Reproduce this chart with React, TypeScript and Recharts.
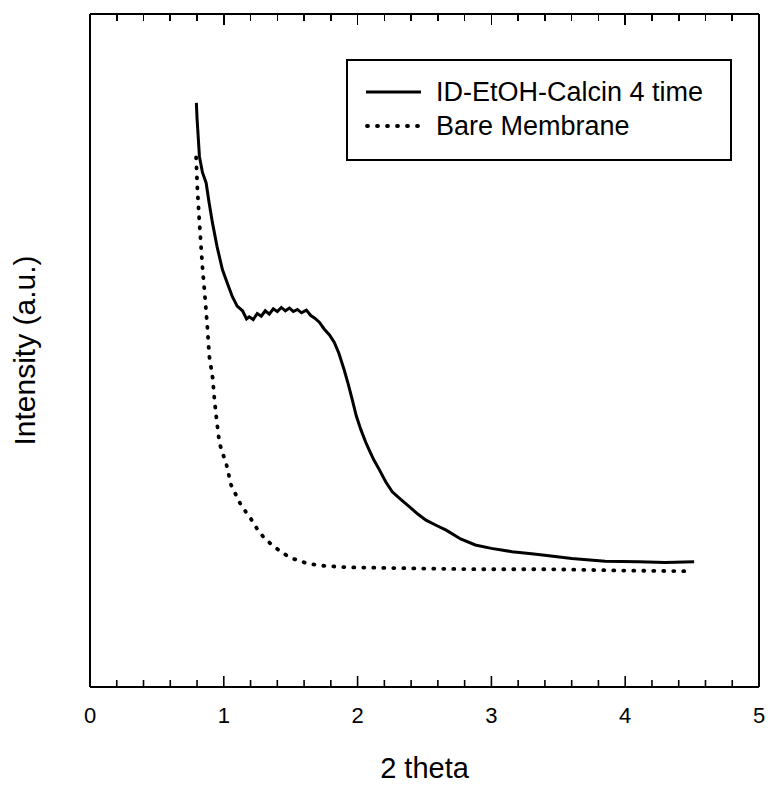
import React from 'react';
import { LineChart, Line, XAxis, YAxis, Legend, ReferenceLine } from 'recharts';

// ID-EtOH-Calcin 4 time
const calcinTheta = [
  0.795, 0.8, 0.818, 0.84, 0.868, 0.89, 0.915, 0.95, 0.99, 1.03, 1.064, 1.1, 1.14, 1.17, 1.19,
  1.22, 1.25, 1.28, 1.31, 1.34, 1.37, 1.4, 1.43, 1.46, 1.49, 1.52, 1.55, 1.58, 1.617, 1.65, 1.68,
  1.714, 1.75, 1.79, 1.826, 1.86, 1.9, 1.93, 1.96, 1.99, 2.025, 2.06, 2.087, 2.12, 2.162, 2.21,
  2.259, 2.32, 2.386, 2.45, 2.511, 2.59, 2.662, 2.77, 2.88, 3.0, 3.155, 3.3, 3.43, 3.6, 3.85, 4.1,
  4.3, 4.515,
];
const calcinIntensity = [
  86.8, 84.5, 78.8, 76.5, 74.9, 72.0, 69.0, 65.4, 62.0, 59.8, 58.0, 56.6, 55.9, 54.7, 55.0,
  54.6, 55.5, 55.1, 55.9, 55.4, 56.2, 55.8, 56.4, 55.9, 56.3, 55.8, 56.1, 55.6, 56.0, 55.2, 54.8,
  54.2, 53.2, 52.3, 51.2, 49.6, 47.1, 45.0, 42.7, 40.3, 38.2, 36.4, 35.2, 33.8, 32.3, 30.5,
  29.0, 27.9, 26.8, 25.7, 24.8, 24.0, 23.3, 22.0, 21.1, 20.6, 20.1, 19.8, 19.5, 19.1, 18.7, 18.6,
  18.5, 18.6,
];

// Bare Membrane
const bareTheta = [
  0.793, 0.803, 0.818, 0.84, 0.86, 0.877, 0.892, 0.917, 0.93, 0.947, 0.967, 0.99, 1.017, 1.055,
  1.092, 1.129, 1.199, 1.249, 1.296, 1.355, 1.42, 1.497, 1.632, 1.75, 1.908, 2.19, 2.5, 2.88,
  3.43, 4.0, 4.48,
];
const bareIntensity = [
  78.7, 73.9, 69.0, 62.5, 57.8, 53.5, 49.1, 45.9, 42.7, 39.6, 36.3, 34.8, 33.3, 30.0,
  28.5, 27.0, 25.1, 23.5, 22.3, 21.2, 20.2, 19.2, 18.3, 18.0, 17.8, 17.7, 17.6, 17.5,
  17.5, 17.3, 17.2,
];

const thetaTicks = [
  0, 0.2, 0.4, 0.6, 0.8, 1, 1.2, 1.4, 1.6, 1.8, 2, 2.2, 2.4, 2.6, 2.8, 3, 3.2, 3.4, 3.6, 3.8, 4,
  4.2, 4.4, 4.6, 4.8, 5,
];

const calcinData = calcinTheta.map((x, i) => ({ x, y: calcinIntensity[i] }));
const bareData = bareTheta.map((x, i) => ({ x, y: bareIntensity[i] }));

const FONT = '"Liberation Sans", Arial, sans-serif';
const X_MAX = 5;
const Y_MAX = 100;
const PLOT_TOP = 14;
const PLOT_LEFT = 90;
const PLOT_WIDTH = 669;

const isMajor = (v: number) => Math.abs(v - Math.round(v)) < 1e-6;

// inward ticks on the bottom edge, labels on whole numbers
const BottomTick = (props: any) => {
  const { x, y, payload } = props;
  const major = isMajor(payload.value);
  return (
    <g>
      <line x1={x} y1={y} x2={x} y2={y - (major ? 11 : 7)} stroke="#000" strokeWidth={1.6} />
      {major && (
        <text x={x} y={y + 36} textAnchor="middle" fontSize={22} fontFamily={FONT} fill="#000">
          {Math.round(payload.value)}
        </text>
      )}
    </g>
  );
};

// mirrored tick row hanging from the top edge of the frame
const TopTicks = () => (
  <div style={{ position: 'absolute', left: 0, top: 0, zIndex: 5, pointerEvents: 'none' }}>
    {thetaTicks.map((t) => (
      <div
        key={t}
        style={{
          position: 'absolute',
          left: PLOT_LEFT + (t / X_MAX) * PLOT_WIDTH - 0.8,
          top: PLOT_TOP,
          width: 1.6,
          height: isMajor(t) ? 11 : 7,
          background: '#000',
        }}
      />
    ))}
  </div>
);

const LegendBox = () => (
  <svg width={386} height={102} style={{ display: 'block' }}>
    <rect x={1} y={1} width={384} height={100} fill="#fff" stroke="#000" strokeWidth={2} />
    <line x1={20} y1={33} x2={75} y2={33} stroke="#000" strokeWidth={3} />
    <text x={90} y={42} fontSize={27} fontFamily={FONT} fill="#000">
      ID-EtOH-Calcin 4 time
    </text>
    <line
      x1={21}
      y1={67}
      x2={76}
      y2={67}
      stroke="#000"
      strokeWidth={3.8}
      strokeDasharray="1 9"
      strokeLinecap="round"
    />
    <text x={90} y={76} fontSize={27} fontFamily={FONT} fill="#000">
      Bare Membrane
    </text>
  </svg>
);

export default function App() {
  return (
    <div style={{ position: 'absolute', left: 0, top: 0, width: 770, height: 789, background: '#fff' }}>
      <LineChart width={770} height={789} margin={{ top: PLOT_TOP, right: 10, bottom: 101, left: 89 }}>
        <XAxis
          type="number"
          dataKey="x"
          domain={[0, X_MAX]}
          ticks={thetaTicks}
          interval={0}
          height={1}
          tickSize={0}
          tickMargin={0}
          tick={<BottomTick />}
          axisLine={{ stroke: '#000', strokeWidth: 2 }}
          label={({ viewBox }: any) => (
            <text
              x={viewBox.x + viewBox.width / 2}
              y={778}
              textAnchor="middle"
              fontSize={29}
              fontFamily={FONT}
              fill="#000"
            >
              2 theta
            </text>
          )}
        />
        <YAxis
          type="number"
          domain={[0, Y_MAX]}
          width={1}
          tick={false}
          tickLine={false}
          axisLine={{ stroke: '#000', strokeWidth: 2 }}
          label={({ viewBox }: any) => (
            <text
              x={35}
              y={viewBox.y + viewBox.height / 2}
              transform={`rotate(-90, 35, ${viewBox.y + viewBox.height / 2})`}
              textAnchor="middle"
              fontSize={30}
              fontFamily={FONT}
              fill="#000"
            >
              Intensity (a.u.)
            </text>
          )}
        />
        <YAxis
          yAxisId="right"
          orientation="right"
          type="number"
          domain={[0, Y_MAX]}
          width={1}
          tick={false}
          tickLine={false}
          axisLine={{ stroke: '#000', strokeWidth: 2 }}
        />
        {/* top edge of the frame */}
        <ReferenceLine y={Y_MAX} stroke="#000" strokeWidth={2} ifOverflow="visible" />
        <Legend
          layout="vertical"
          align="center"
          verticalAlign="middle"
          content={<LegendBox />}
          wrapperStyle={{ position: 'absolute', left: 346, top: 59, width: 386, height: 102 }}
        />
        <Line
          name="ID-EtOH-Calcin 4 time"
          data={calcinData}
          dataKey="y"
          type="linear"
          stroke="#000"
          strokeWidth={3}
          dot={false}
          isAnimationActive={false}
        />
        <Line
          name="Bare Membrane"
          data={bareData}
          dataKey="y"
          type="linear"
          stroke="#000"
          strokeWidth={3.8}
          strokeDasharray="1 9"
          strokeLinecap="round"
          dot={false}
          isAnimationActive={false}
        />
      </LineChart>
      <TopTicks />
    </div>
  );
}
